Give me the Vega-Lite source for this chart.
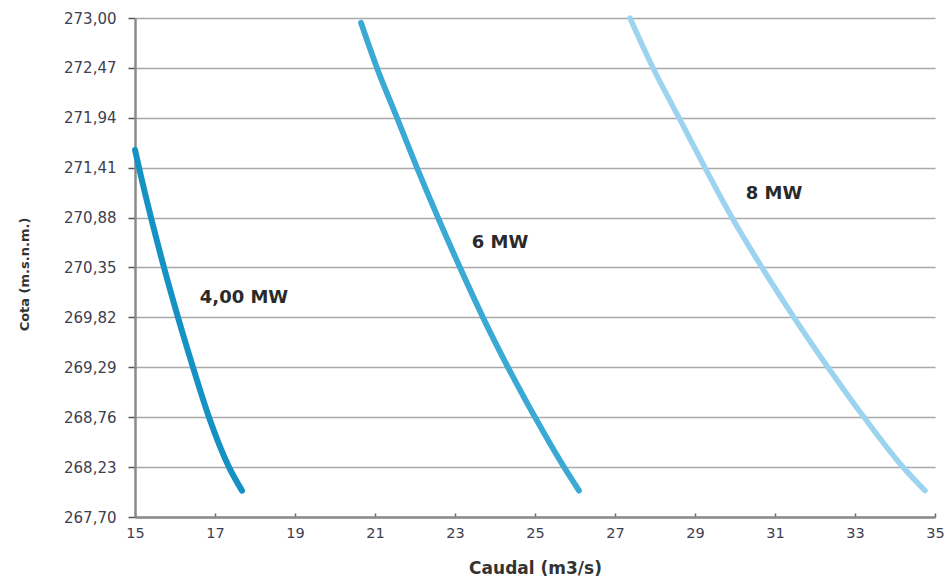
{
  "$schema": "https://vega.github.io/schema/vega-lite/v6.json",
  "autosize": {"type": "none"},
  "padding": {"left": 135, "top": 18, "right": 14, "bottom": 66},
  "width": 800,
  "height": 499,
  "background": "white",
  "config": {
    "view": {"stroke": null},
    "font": "DejaVu Sans"
  },
  "datasets": {
    "curves": [
      {"serie": "4 MW", "caudal": 15.0, "cota": 271.60},
      {"serie": "4 MW", "caudal": 15.1, "cota": 271.41},
      {"serie": "4 MW", "caudal": 15.4, "cota": 270.88},
      {"serie": "4 MW", "caudal": 15.725, "cota": 270.35},
      {"serie": "4 MW", "caudal": 16.075, "cota": 269.82},
      {"serie": "4 MW", "caudal": 16.45, "cota": 269.29},
      {"serie": "4 MW", "caudal": 16.85, "cota": 268.76},
      {"serie": "4 MW", "caudal": 17.35, "cota": 268.23},
      {"serie": "4 MW", "caudal": 17.675, "cota": 267.98},
      {"serie": "6 MW", "caudal": 20.65, "cota": 272.95},
      {"serie": "6 MW", "caudal": 21.05, "cota": 272.47},
      {"serie": "6 MW", "caudal": 21.55, "cota": 271.94},
      {"serie": "6 MW", "caudal": 22.05, "cota": 271.41},
      {"serie": "6 MW", "caudal": 22.575, "cota": 270.88},
      {"serie": "6 MW", "caudal": 23.125, "cota": 270.35},
      {"serie": "6 MW", "caudal": 23.7, "cota": 269.82},
      {"serie": "6 MW", "caudal": 24.325, "cota": 269.29},
      {"serie": "6 MW", "caudal": 25.0, "cota": 268.76},
      {"serie": "6 MW", "caudal": 25.725, "cota": 268.23},
      {"serie": "6 MW", "caudal": 26.1, "cota": 267.98},
      {"serie": "8 MW", "caudal": 27.375, "cota": 273.0},
      {"serie": "8 MW", "caudal": 27.95, "cota": 272.47},
      {"serie": "8 MW", "caudal": 28.6, "cota": 271.94},
      {"serie": "8 MW", "caudal": 29.25, "cota": 271.41},
      {"serie": "8 MW", "caudal": 29.925, "cota": 270.88},
      {"serie": "8 MW", "caudal": 30.675, "cota": 270.35},
      {"serie": "8 MW", "caudal": 31.475, "cota": 269.82},
      {"serie": "8 MW", "caudal": 32.325, "cota": 269.29},
      {"serie": "8 MW", "caudal": 33.225, "cota": 268.76},
      {"serie": "8 MW", "caudal": 34.2, "cota": 268.23},
      {"serie": "8 MW", "caudal": 34.75, "cota": 267.98}
    ],
    "labels": [
      {"texto": "4,00 MW", "caudal": 17.725, "cota": 270.03},
      {"texto": "6 MW", "caudal": 24.125, "cota": 270.605},
      {"texto": "8 MW", "caudal": 30.975, "cota": 271.127}
    ]
  },
  "layer": [
    {
      "data": {"name": "curves"},
      "mark": {"type": "line", "interpolate": "monotone", "strokeCap": "round", "strokeJoin": "round", "clip": false},
      "encoding": {
        "x": {
          "field": "caudal", "type": "quantitative",
          "scale": {"domain": [15, 35], "nice": false, "zero": false},
          "axis": {
            "title": "Caudal (m3/s)",
            "values": [15, 17, 19, 21, 23, 25, 27, 29, 31, 33, 35],
            "grid": false,
            "labelFlush": false,
            "domainColor": "#8a8a8a", "domainWidth": 2.5,
            "tickColor": "#666", "tickSize": -4, "tickWidth": 1.5,
            "labelFont": "DejaVu Sans", "labelFontSize": 14.5, "labelColor": "#3d4050",
            "labelPadding": 13,
            "titleFont": "DejaVu Sans", "titleFontSize": 17, "titleFontWeight": "bold",
            "titleColor": "#333", "titlePadding": 21
          }
        },
        "y": {
          "field": "cota", "type": "quantitative",
          "scale": {"domain": [267.7, 273.0], "nice": false, "zero": false},
          "axis": {
            "title": "Cota (m.s.n.m.)",
            "values": [267.70, 268.23, 268.76, 269.29, 269.82, 270.35, 270.88, 271.41, 271.94, 272.47, 273.00],
            "format": ".2f",
            "labelExpr": "replace(datum.label, '.', ',')",
            "grid": true, "gridColor": "#a9a9a9", "gridWidth": 1.5,
            "domainColor": "#8a8a8a", "domainWidth": 2.5,
            "tickColor": "#555", "tickSize": 7, "tickWidth": 1.5,
            "labelFont": "DejaVu Sans", "labelFontSize": 15, "labelColor": "#3d4050",
            "labelPadding": 12,
            "titleFont": "DejaVu Sans", "titleFontSize": 13, "titleFontWeight": "bold",
            "titleColor": "#333", "titlePadding": 32, "titleY": 256
          }
        },
        "color": {
          "field": "serie", "type": "nominal",
          "scale": {"domain": ["4 MW", "6 MW", "8 MW"], "range": ["#1591c4", "#3aa9d3", "#9cd4f0"]},
          "legend": null
        },
        "strokeWidth": {
          "field": "serie", "type": "nominal",
          "scale": {"domain": ["4 MW", "6 MW", "8 MW"], "range": [6, 5.5, 5.5]},
          "legend": null
        }
      }
    },
    {
      "data": {"name": "labels"},
      "mark": {"type": "text", "fontWeight": "bold", "fontSize": 18, "color": "#2a2a2a", "font": "DejaVu Sans"},
      "encoding": {
        "x": {"field": "caudal", "type": "quantitative"},
        "y": {"field": "cota", "type": "quantitative"},
        "text": {"field": "texto"}
      }
    }
  ]
}
